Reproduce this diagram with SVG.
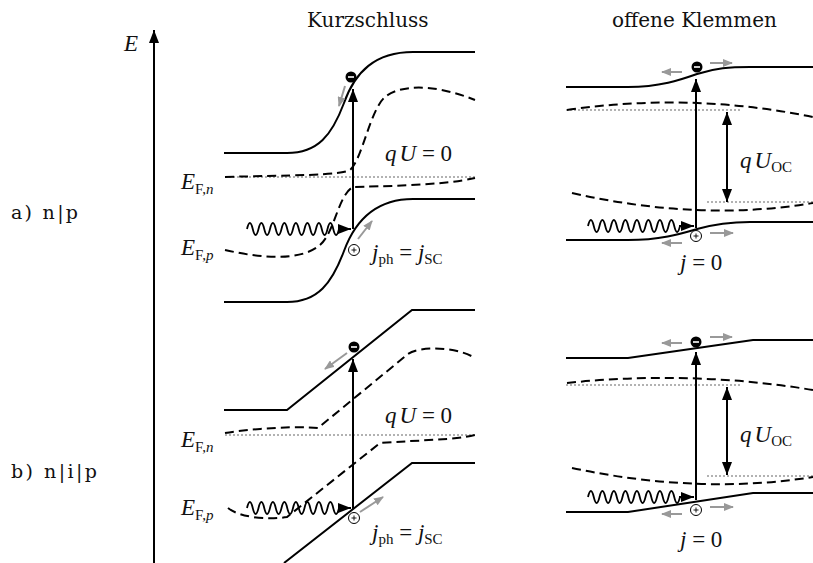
<svg xmlns="http://www.w3.org/2000/svg" width="813" height="563" viewBox="0 0 813 563">
<style>
.band{fill:none;stroke:#000;stroke-width:2}
.dash{fill:none;stroke:#000;stroke-width:2;stroke-dasharray:9 5}
.dot{fill:none;stroke:#999;stroke-width:1.6;stroke-dasharray:2 2}
.arr{fill:none;stroke:#000;stroke-width:2;marker-end:url(#ah)}
.dbl{fill:none;stroke:#000;stroke-width:2;marker-end:url(#ah);marker-start:url(#ahs)}
.wave{fill:none;stroke:#000;stroke-width:1.8}
.gr{fill:none;stroke:#999;stroke-width:2;marker-end:url(#gh)}
.txt{font-family:"DejaVu Serif","Liberation Serif",serif;font-size:19px;fill:#111}
.ttl{font-size:20px}
.m{font-family:"Liberation Serif","DejaVu Serif",serif;font-size:23px;fill:#111}
.it{font-style:italic}
.sub{font-size:15px}
.el{fill:#000}
.ho{fill:#fff;stroke:#000;stroke-width:1}
</style>
<defs>
<marker id="ah" markerUnits="userSpaceOnUse" markerWidth="14" markerHeight="10" refX="13" refY="5" orient="auto"><path d="M0,0 L13,5 L0,10 z" fill="#000"/></marker>
<marker id="ahs" markerUnits="userSpaceOnUse" markerWidth="14" markerHeight="10" refX="0" refY="5" orient="auto"><path d="M13,0 L0,5 L13,10 z" fill="#000"/></marker>
<marker id="gh" markerUnits="userSpaceOnUse" markerWidth="10" markerHeight="8" refX="9" refY="4" orient="auto"><path d="M0,0 L10,4 L0,8 z" fill="#999"/></marker>
<g id="elec"><circle r="5.5" class="el"/><line x1="-3" y1="0" x2="3" y2="0" stroke="#fff" stroke-width="1.6"/></g>
<g id="hole"><circle r="5.5" class="ho"/><line x1="-2.5" y1="0" x2="2.5" y2="0" stroke="#000" stroke-width="0.9"/><line x1="0" y1="-2.5" x2="0" y2="2.5" stroke="#000" stroke-width="0.9"/></g>
<path id="wv" d="M0,0 q2.9,-12 5.75,0 t5.75,0 t5.75,0 t5.75,0 t5.75,0 t5.75,0 t5.75,0 t5.75,0 t5.75,0 t5.75,0 t5.75,0 t5.75,0 t5.75,0 t5.75,0 t5.75,0 t5.75,0"/>
</defs>

<g id="axis">
<line x1="154" y1="563" x2="154" y2="30" class="arr"/>
<text x="124" y="51" class="m it">E</text>
</g>

<g id="titles">
<text x="307" y="27" class="txt ttl">Kurzschluss</text>
<text x="612" y="27" class="txt ttl">offene Klemmen</text>
<text x="11" y="219" class="txt" textLength="67" lengthAdjust="spacing">a) n|p</text>
<text x="11" y="478" class="txt" textLength="86" lengthAdjust="spacing">b) n|i|p</text>
</g>

<g id="labels">
<text x="181" y="189" class="m"><tspan class="it">E</tspan><tspan class="sub" dy="5">F,</tspan><tspan class="sub it">n</tspan></text>
<text x="181" y="255" class="m"><tspan class="it">E</tspan><tspan class="sub" dy="5">F,</tspan><tspan class="sub it">p</tspan></text>
<text x="181" y="447" class="m"><tspan class="it">E</tspan><tspan class="sub" dy="5">F,</tspan><tspan class="sub it">n</tspan></text>
<text x="181" y="515" class="m"><tspan class="it">E</tspan><tspan class="sub" dy="5">F,</tspan><tspan class="sub it">p</tspan></text>
</g>

<g id="panel-a-ks">
<path class="band" d="M224,153 L287,153 C318,153 332,135 344,103 C355,72 375,52 413,52 L475,52"/>
<path class="band" d="M224,302 L287,302 C318,302 332,283 344,251 C355,221 375,199 413,199 L475,199"/>
<path class="dot" d="M225,177 L475,177"/>
<path class="dash" d="M225,177 C290,175 338,176 350,170 C362,160 370,110 385,97 C398,86 430,82 475,100"/>
<path class="dash" d="M225,250 C260,258 300,262 320,245 C335,232 338,195 353,187 C380,186 440,186 475,178"/>
<line class="arr" x1="353" y1="229" x2="353" y2="89"/>
<use href="#wv" x="247" y="229" class="wave"/>
<line class="arr" x1="338" y1="229" x2="351" y2="229"/>
<use href="#elec" x="351" y="77"/>
<use href="#hole" x="354" y="250"/>
<line class="gr" x1="345" y1="86" x2="339" y2="106"/>
<line class="gr" x1="358" y1="239" x2="372" y2="221"/>
<text x="385" y="161" class="m"><tspan class="it">q</tspan><tspan class="it" dx="3">U</tspan> = 0</text>
<text x="372" y="260" class="m"><tspan class="it">j</tspan><tspan class="sub" dy="4">ph</tspan><tspan dy="-4"> = </tspan><tspan class="it">j</tspan><tspan class="sub" dy="4">SC</tspan></text>
</g>

<g id="panel-a-oc">
<path class="band" d="M566,87 L628,87 C660,87 680,80 697,74 C715,68 730,67 750,67 L813,67"/>
<path class="band" d="M566,240 L628,240 C660,240 680,234 697,229 C715,224 730,222 750,222 L813,222"/>
<path class="dot" d="M566,110 L740,110"/>
<path class="dot" d="M707,202 L813,202"/>
<path class="dash" d="M567,110 Q690,92 813,117"/>
<path class="dash" d="M572,193 Q700,222 813,203"/>
<line class="arr" x1="696" y1="228" x2="696" y2="79"/>
<line class="dbl" x1="727" y1="112" x2="727" y2="202"/>
<use href="#wv" x="588" y="226" class="wave"/>
<line class="arr" x1="679" y1="226" x2="694" y2="226"/>
<use href="#elec" x="697" y="67"/>
<use href="#hole" x="696" y="236"/>
<line class="gr" x1="682" y1="72" x2="662" y2="72"/>
<line class="gr" x1="710" y1="63" x2="732" y2="63"/>
<line class="gr" x1="710" y1="233" x2="733" y2="233"/>
<line class="gr" x1="682" y1="243" x2="662" y2="243"/>
<text x="740" y="168" class="m"><tspan class="it">q</tspan><tspan class="it" dx="3">U</tspan><tspan class="sub" dy="4">OC</tspan></text>
<text x="680" y="270" class="m"><tspan class="it">j</tspan> = 0</text>
</g>

<g id="panel-b-ks">
<path class="band" d="M224,410 L287,410 L412,310 L475,310"/>
<path class="band" d="M284,563 L412,463 L475,463"/>
<path class="dot" d="M225,435 L475,435"/>
<path class="dash" d="M225,433 C255,428 300,426 318,428 L408,354 C420,346 455,346 475,358"/>
<path class="dash" d="M228,508 C240,518 270,520 287,517 L380,443 C420,440 455,440 475,435"/>
<line class="arr" x1="353" y1="509" x2="353" y2="359"/>
<use href="#wv" x="247" y="508" class="wave"/>
<line class="arr" x1="338" y1="508" x2="351" y2="508"/>
<use href="#elec" x="354" y="347"/>
<use href="#hole" x="354" y="518"/>
<line class="gr" x1="347" y1="353" x2="325" y2="369"/>
<line class="gr" x1="360" y1="512" x2="383" y2="497"/>
<text x="385" y="423" class="m"><tspan class="it">q</tspan><tspan class="it" dx="3">U</tspan> = 0</text>
<text x="372" y="540" class="m"><tspan class="it">j</tspan><tspan class="sub" dy="4">ph</tspan><tspan dy="-4"> = </tspan><tspan class="it">j</tspan><tspan class="sub" dy="4">SC</tspan></text>
</g>

<g id="panel-b-oc">
<path class="band" d="M566,358 L628,358 L753,340 L813,340"/>
<path class="band" d="M566,512 L628,512 L753,493 L813,493"/>
<path class="dot" d="M566,385 L740,385"/>
<path class="dot" d="M707,476 L813,476"/>
<path class="dash" d="M567,383 Q690,370 813,390"/>
<path class="dash" d="M572,468 Q700,495 813,477"/>
<line class="arr" x1="696" y1="500" x2="696" y2="352"/>
<line class="dbl" x1="727" y1="387" x2="727" y2="475"/>
<use href="#wv" x="588" y="497" class="wave"/>
<line class="arr" x1="679" y1="497" x2="694" y2="497"/>
<use href="#elec" x="696" y="342"/>
<use href="#hole" x="696" y="510"/>
<line class="gr" x1="682" y1="343" x2="662" y2="343"/>
<line class="gr" x1="710" y1="337" x2="732" y2="337"/>
<line class="gr" x1="710" y1="507" x2="733" y2="507"/>
<line class="gr" x1="682" y1="514" x2="662" y2="514"/>
<text x="740" y="442" class="m"><tspan class="it">q</tspan><tspan class="it" dx="3">U</tspan><tspan class="sub" dy="4">OC</tspan></text>
<text x="680" y="547" class="m"><tspan class="it">j</tspan> = 0</text>
</g>
</svg>
